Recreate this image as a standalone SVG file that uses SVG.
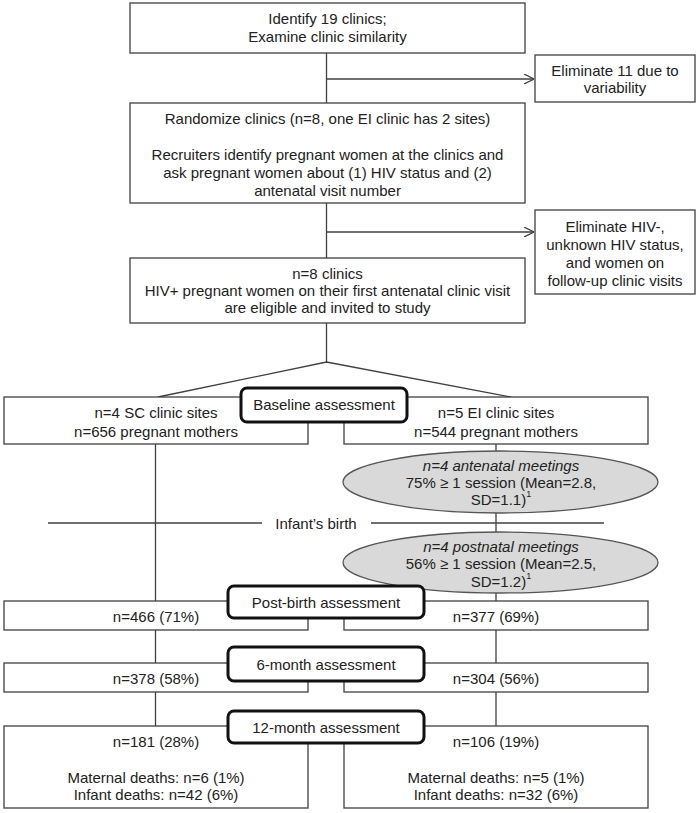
<svg xmlns="http://www.w3.org/2000/svg" width="697" height="813" viewBox="0 0 697 813">
<style>
.box{fill:#fff;stroke:#404040;stroke-width:1.3}
.lbl{fill:#fff;stroke:#111;stroke-width:3}
.ell{fill:#d9d9d9;stroke:#555;stroke-width:1.3}
.ln{fill:none;stroke:#404040;stroke-width:1.3}
text{font-family:"Liberation Sans",Arial,sans-serif;font-size:15px;fill:#222;text-anchor:middle;dominant-baseline:central}
.it{font-style:italic}
</style>
<defs>
<marker id="arr" viewBox="0 0 10 10" refX="10" refY="5" markerWidth="10" markerHeight="10" markerUnits="userSpaceOnUse" orient="auto">
<path d="M0,0 L10,5 L0,10" fill="none" stroke="#404040" stroke-width="1.3"/>
</marker>
</defs>
<g id="connectors">
<line class="ln" x1="326.5" y1="53" x2="326.5" y2="103"/>
<line class="ln" x1="326.5" y1="79" x2="534" y2="79" marker-end="url(#arr)"/>
<line class="ln" x1="326.5" y1="203" x2="326.5" y2="258"/>
<line class="ln" x1="326.5" y1="232" x2="534" y2="232" marker-end="url(#arr)"/>
<line class="ln" x1="326.5" y1="323" x2="326.5" y2="362"/>
<polyline class="ln" points="158,397 326.5,362 511,397"/>
<line class="ln" x1="155.5" y1="444" x2="155.5" y2="601"/>
<line class="ln" x1="155.5" y1="630" x2="155.5" y2="663"/>
<line class="ln" x1="155.5" y1="692" x2="155.5" y2="726"/>
<line class="ln" x1="496" y1="444" x2="496" y2="451"/>
<line class="ln" x1="496" y1="513" x2="496" y2="532"/>
<line class="ln" x1="496" y1="593" x2="496" y2="601"/>
<line class="ln" x1="496" y1="630" x2="496" y2="663"/>
<line class="ln" x1="496" y1="692" x2="496" y2="726"/>
</g>
<g id="birth">
<line class="ln" x1="48" y1="523" x2="262" y2="523"/>
<line class="ln" x1="371" y1="523" x2="604" y2="523"/>
<text x="316" y="523">Infant’s birth</text>
</g>
<g id="identify">
<rect class="box" x="130" y="3" width="395" height="50"/>
<text x="327.5" y="18">Identify 19 clinics;</text>
<text x="327.5" y="36">Examine clinic similarity</text>
</g>
<g id="elim11">
<rect class="box" x="535" y="55" width="160" height="47"/>
<text x="615" y="70">Eliminate 11 due to</text>
<text x="615" y="87">variability</text>
</g>
<g id="randomize">
<rect class="box" x="130" y="103" width="395" height="100"/>
<text x="327.5" y="118">Randomize clinics (n=8, one EI clinic has 2 sites)</text>
<text x="327.5" y="154">Recruiters identify pregnant women at the clinics and</text>
<text x="327.5" y="172">ask pregnant women about (1) HIV status and (2)</text>
<text x="327.5" y="190">antenatal visit number</text>
</g>
<g id="elimhiv">
<rect class="box" x="535" y="210" width="160" height="84"/>
<text x="615" y="226">Eliminate HIV-,</text>
<text x="615" y="244">unknown HIV status,</text>
<text x="615" y="262">and women on</text>
<text x="615" y="280">follow-up clinic visits</text>
</g>
<g id="eligible">
<rect class="box" x="130" y="258" width="395" height="65"/>
<text x="327.5" y="273">n=8 clinics</text>
<text x="327.5" y="290">HIV+ pregnant women on their first antenatal clinic visit</text>
<text x="327.5" y="307">are eligible and invited to study</text>
</g>
<g id="sc-baseline">
<rect class="box" x="4" y="397" width="304" height="47"/>
<text x="156" y="412">n=4 SC clinic sites</text>
<text x="156" y="431">n=656 pregnant mothers</text>
</g>
<g id="ei-baseline">
<rect class="box" x="344" y="397" width="304" height="47"/>
<text x="496" y="412">n=5 EI clinic sites</text>
<text x="496" y="431">n=544 pregnant mothers</text>
</g>
<g id="baseline-label">
<rect class="lbl" x="241" y="388" width="166" height="34" rx="6"/>
<text x="324" y="404">Baseline assessment</text>
</g>
<g id="antenatal">
<ellipse class="ell" cx="500.5" cy="482" rx="157.5" ry="31"/>
<text class="it" x="501" y="465">n=4 antenatal meetings</text>
<text x="501" y="482">75% ≥ 1 session (Mean=2.8,</text>
<text x="501" y="499">SD=1.1)<tspan font-size="9" dy="-5">1</tspan></text>
</g>
<g id="postnatal">
<ellipse class="ell" cx="500.5" cy="562.5" rx="157.5" ry="30.5"/>
<text class="it" x="501" y="546">n=4 postnatal meetings</text>
<text x="501" y="563">56% ≥ 1 session (Mean=2.5,</text>
<text x="501" y="581">SD=1.2)<tspan font-size="9" dy="-5">1</tspan></text>
</g>
<g id="sc-post">
<rect class="box" x="4" y="601" width="304" height="29"/>
<text x="156" y="616">n=466 (71%)</text>
</g>
<g id="ei-post">
<rect class="box" x="344" y="601" width="304" height="29"/>
<text x="496" y="616">n=377 (69%)</text>
</g>
<g id="post-label">
<rect class="lbl" x="228" y="586" width="196" height="32" rx="6"/>
<text x="326" y="602">Post-birth assessment</text>
</g>
<g id="sc-6m">
<rect class="box" x="4" y="663" width="304" height="29"/>
<text x="156" y="678">n=378 (58%)</text>
</g>
<g id="ei-6m">
<rect class="box" x="344" y="663" width="304" height="29"/>
<text x="496" y="678">n=304 (56%)</text>
</g>
<g id="6m-label">
<rect class="lbl" x="228" y="647" width="196" height="34" rx="6"/>
<text x="326" y="664">6-month assessment</text>
</g>
<g id="sc-12m">
<rect class="box" x="4" y="726" width="304" height="82"/>
<text x="156" y="741">n=181 (28%)</text>
<text x="156" y="777">Maternal deaths: n=6 (1%)</text>
<text x="156" y="794">Infant deaths: n=42 (6%)</text>
</g>
<g id="ei-12m">
<rect class="box" x="344" y="726" width="304" height="82"/>
<text x="496" y="741">n=106 (19%)</text>
<text x="496" y="777">Maternal deaths: n=5 (1%)</text>
<text x="496" y="794">Infant deaths: n=32 (6%)</text>
</g>
<g id="12m-label">
<rect class="lbl" x="228" y="711" width="196" height="32" rx="6"/>
<text x="326" y="727">12-month assessment</text>
</g>
</svg>
